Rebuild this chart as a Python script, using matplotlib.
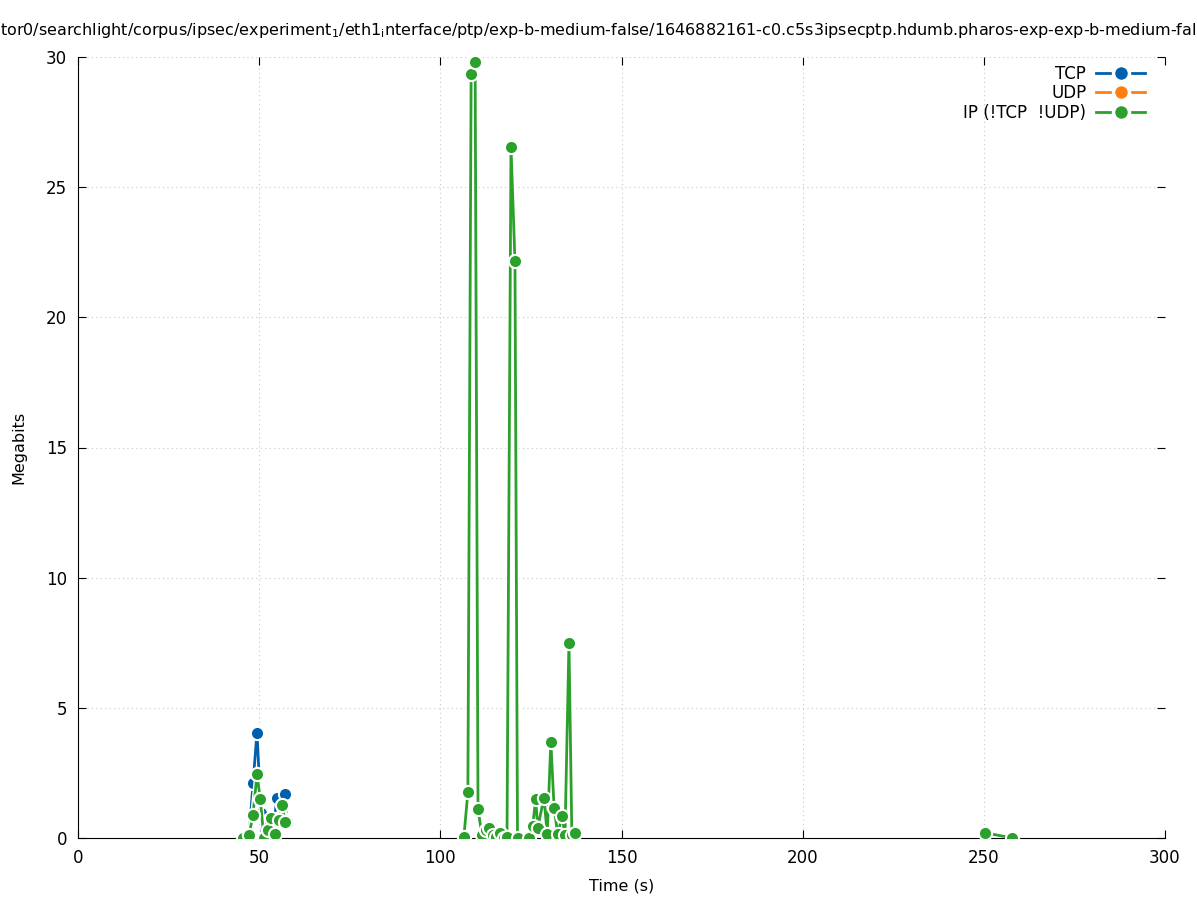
import matplotlib
matplotlib.use('Agg')

import matplotlib.pyplot as plt
import matplotlib.patheffects as pe
from matplotlib.lines import Line2D
import numpy as np

# per-second throughput (Megabits)
tcp_t = [47.2, 48.3, 49.4, 50.5, 51.6, 52.7, 53.8, 54.9, 56.0, 57.1, 57.6]
tcp_mb = [0.05, 2.1, 4.05, 0.95, 0.3, 0.7, 0.2, 1.55, 0.8, 1.7, 0.6]

udp_t = []
udp_mb = []

ip_t = [45.6, 47.2, 48.3, 49.4, 50.3, 51.3, 52.4, 53.3, 54.4, 55.5, 56.3, 57.2,
        106.5, 107.6, 108.5, 109.6, 110.4, 111.5, 112.5, 113.4, 114.5, 115.5,
        116.5, 117.5, 118.4, 119.5, 120.6, 121.3, 124.5, 125.5, 126.3, 126.9,
        128.6, 129.5, 130.5, 131.4, 132.4, 133.6, 134.4, 135.5, 136.3, 137.2,
        250.3, 257.9]
ip_mb = [0.0, 0.1, 0.9, 2.45, 1.5, 0.0, 0.3, 0.75, 0.15, 0.7, 1.25, 0.6,
         0.05, 1.75, 29.35, 29.8, 1.1, 0.1, 0.3, 0.4, 0.1, 0.05,
         0.2, 0.0, 0.05, 26.55, 22.15, 0.0, 0.0, 0.45, 1.5, 0.4,
         1.55, 0.15, 3.7, 1.15, 0.15, 0.85, 0.1, 7.5, 0.1, 0.2,
         0.2, 0.0]

series = [
    ('TCP', tcp_t, tcp_mb, '#0060ad'),
    ('UDP', udp_t, udp_mb, '#ff7f0e'),
    ('IP (!TCP  !UDP)', ip_t, ip_mb, '#2ca02c'),
]

title = ('tor0/searchlight/corpus/ipsec/experiment$_1$/eth1$_{\\rm i}$nterface/ptp/'
         'exp-b-medium-false/1646882161-c0.c5s3ipsecptp.hdumb.pharos-exp-exp-b-medium-fal')


def split_gaps(t, v, max_gap=20):
    # break the line where there is a long silence between samples
    t = np.asarray(t, float)
    v = np.asarray(v, float)
    cut = np.where(np.diff(t) > max_gap)[0] + 1
    return zip(np.split(t, cut), np.split(v, cut))


fig = plt.figure(figsize=(11.97, 9), dpi=100)
ax = fig.add_axes([78 / 1197, 1 - 838 / 900, (1165 - 78) / 1197, (838 - 57) / 900])

handles = []
z = 3
for name, t, mb, col in series:
    if t:
        for seg_t, seg_v in split_gaps(t, mb):
            ax.plot(seg_t, seg_v, color=col, lw=2, zorder=z,
                    path_effects=[pe.Stroke(linewidth=4, foreground='white'), pe.Normal()])
        ax.plot(t, mb, ls='none', marker='o', ms=9.5, mfc=col, mec='white',
                mew=1.5, zorder=z + 1)
    z += 2
    handles.append(Line2D([], [], color=col, lw=2, marker='o', ms=11.5,
                          mfc=col, mec='white', mew=2.5, label=name))

ax.set_xlim(0, 300)
ax.set_ylim(0, 30)
ax.set_xticks(range(0, 301, 50))
ax.set_yticks(range(0, 31, 5))
ax.grid(True, color='#c8c8c8', ls=(0, (1, 3)), lw=0.8)
ax.set_axisbelow(True)
ax.spines['top'].set_visible(False)
ax.spines['right'].set_visible(False)
ax.tick_params(direction='in', top=True, right=True, labelsize=12, length=6,
               pad=8)
ax.set_xlabel('Time (s)', fontsize=11.5, labelpad=8)
ax.set_ylabel('Megabits', fontsize=11.5, labelpad=14)

ax.legend(handles=handles, loc='upper right', frameon=False, markerfirst=False,
          fontsize=12, handlelength=2.9, handletextpad=0.6, labelspacing=0.1,
          borderaxespad=0.2, bbox_to_anchor=(0.9905, 1.003))

fig.text(0.0, 1 - 30 / 900, title, ha='left', va='center', fontsize=11.5)

fig.savefig('out.png', dpi=100)
